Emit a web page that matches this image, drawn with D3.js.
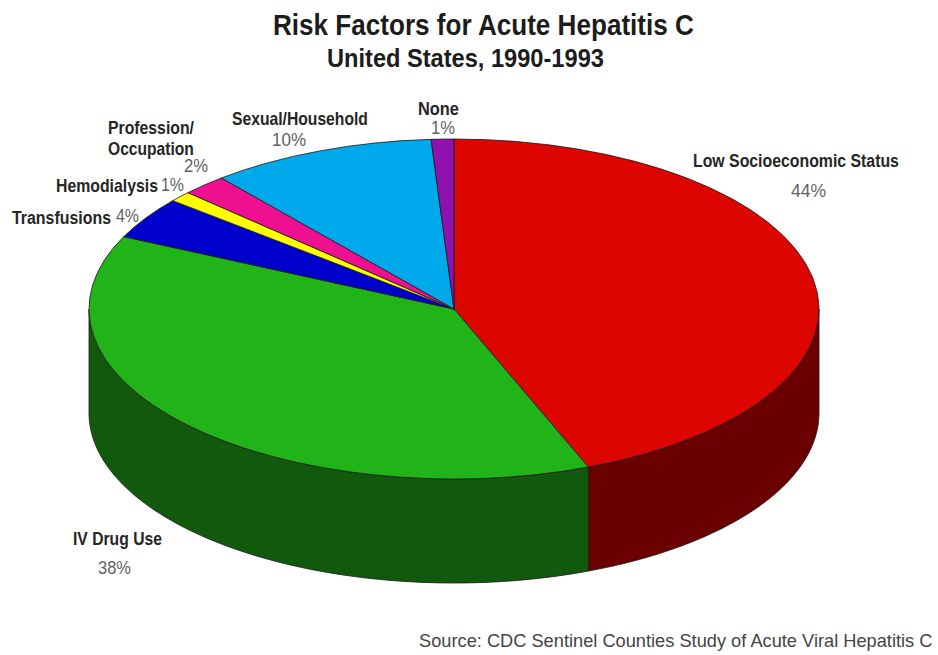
<!DOCTYPE html>
<html>
<head>
<meta charset="utf-8">
<script src="https://cdn.jsdelivr.net/npm/d3@7/dist/d3.min.js"></script>
<style>
  html, body { margin: 0; padding: 0; background: #fff; }
  svg { display: block; }
  text { font-family: "Liberation Sans", Arial, sans-serif; }
</style>
</head>
<body>
<svg id="chart" width="938" height="655"></svg>
<script>
// Risk factor shares, clockwise from twelve o'clock
const categories = ["Low Socioeconomic Status", "IV Drug Use", "Transfusions", "Hemodialysis", "Profession/Occupation", "Sexual/Household", "None"];
const shares = [44, 38, 4, 1, 2, 10, 1];
const topColors = ["#dd0500", "#20b418", "#0000cc", "#ffff00", "#ee1090", "#00a8ec", "#9010b0"];
const wallColors = ["#6b0000", "#115a0d", "#00006b", "#6b6b00", "#700845", "#005578", "#480858"];

const svg = d3.select("#chart");
const cx = 454, cy = 309, rx = 365, ry = 170, depth = 104;
const edge = "#1a1a1a";

const slices = d3.pie().sort(null).value(d => d)(shares);

// Maps a pie angle (radians clockwise from the top) onto the tilted rim
const rimX = a => cx + rx * Math.sin(a);
const rimY = a => cy - ry * Math.cos(a);

// Front wall of the disc: only the part of the rim facing the viewer
const FRONT_START = Math.PI / 2, FRONT_END = 3 * Math.PI / 2;
const wall = svg.append("g").attr("class", "walls");
slices.forEach((s, i) => {
  const a0 = Math.max(s.startAngle, FRONT_START);
  const a1 = Math.min(s.endAngle, FRONT_END);
  if (a1 <= a0) return;
  const angles = d3.range(0, 81).map(k => a0 + (a1 - a0) * k / 80);
  const ring = angles.map(a => [rimX(a), rimY(a)])
    .concat(angles.slice().reverse().map(a => [rimX(a), rimY(a) + depth]));
  wall.append("path")
    .attr("d", d3.line()(ring) + "Z")
    .attr("fill", wallColors[i])
    .attr("stroke", edge)
    .attr("stroke-width", 0.8)
    .attr("stroke-linejoin", "round");
});

// Top face: a flat pie squashed vertically into the ellipse
const arc = d3.arc().innerRadius(0).outerRadius(rx);
svg.append("g")
  .attr("class", "top")
  .attr("transform", `translate(${cx},${cy}) scale(1,${ry / rx})`)
  .selectAll("path")
  .data(slices)
  .join("path")
  .attr("d", arc)
  .attr("fill", (d, i) => topColors[i])
  .attr("stroke", edge)
  .attr("stroke-width", 0.8)
  .attr("stroke-linejoin", "round")
  .attr("vector-effect", "non-scaling-stroke");

// Draws one line of text condensed horizontally to fill a given span
function label(str, x0, x1, y, size, weight, color) {
  const t = svg.append("text")
    .attr("font-size", size)
    .attr("font-weight", weight)
    .attr("fill", color)
    .text(str);
  const k = (x1 - x0) / t.node().getComputedTextLength();
  t.attr("transform", `translate(${x0},${y}) scale(${k},1)`);
}

const dark = "#262626", grey = "#5f5f5f";
const labelSize = 17.5;

label("Risk Factors for Acute Hepatitis C", 273, 694, 35, 29, "bold", "#1c1c1c");
label("United States, 1990-1993", 327, 604, 67, 26, "bold", "#1c1c1c");

label(categories[0], 693, 899, 167, labelSize, "bold", dark);
label(shares[0] + "%", 791, 826, 197, labelSize, "normal", grey);

label(categories[1], 73, 162, 545, labelSize, "bold", dark);
label(shares[1] + "%", 98, 131, 574, labelSize, "normal", grey);

label(categories[2], 12, 111, 224, labelSize, "bold", dark);
label(shares[2] + "%", 116, 139, 222, labelSize, "normal", grey);

label(categories[3], 56, 158, 192, labelSize, "bold", dark);
label(shares[3] + "%", 161, 184, 191, labelSize, "normal", grey);

label("Profession/", 108, 194, 134, labelSize, "bold", dark);
label("Occupation", 108, 194, 155, labelSize, "bold", dark);
label(shares[4] + "%", 184, 208, 172, labelSize, "normal", grey);

label(categories[5], 232, 368, 125, labelSize, "bold", dark);
label(shares[5] + "%", 272, 306, 146, labelSize, "normal", grey);

label(categories[6], 418, 459, 115, labelSize, "bold", dark);
label(shares[6] + "%", 431, 455, 134, labelSize, "normal", grey);

label("Source: CDC Sentinel Counties Study of Acute Viral Hepatitis C", 419, 933, 647, 19, "normal", "#444444");
</script>
</body>
</html>
